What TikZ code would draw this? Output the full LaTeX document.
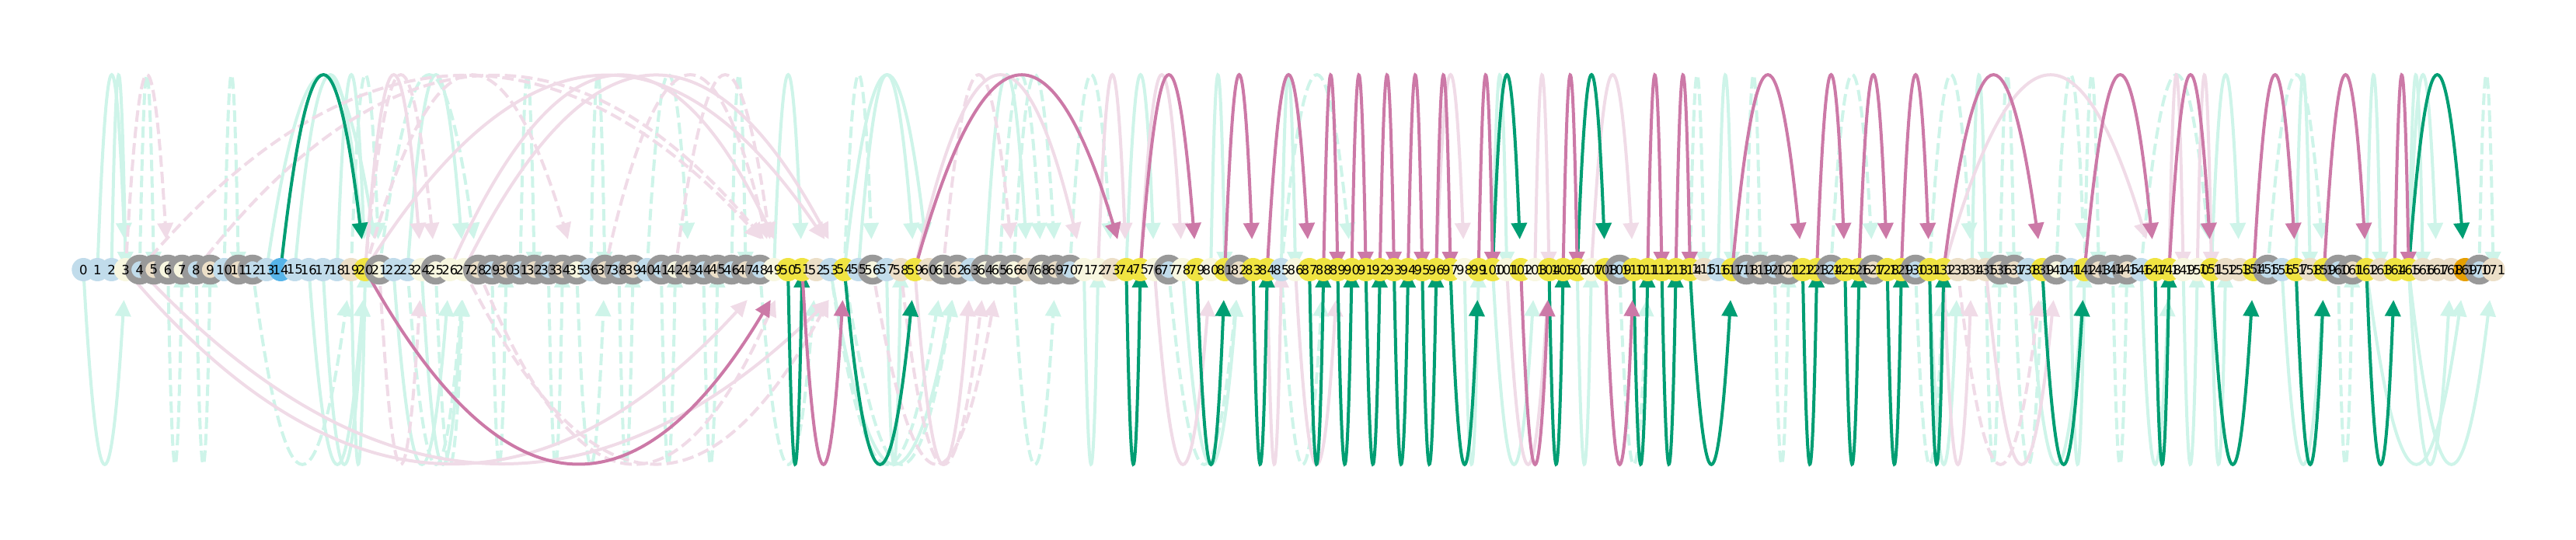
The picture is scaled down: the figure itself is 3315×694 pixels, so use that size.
\documentclass[tikz,border=0pt]{standalone}
\usepackage{fontspec}
\setmainfont{DejaVu Sans}
\usetikzlibrary{arrows.meta,calc}
\definecolor{cb}{HTML}{C1DCEB}
\definecolor{cc}{HTML}{F8F7E0}
\definecolor{ct}{HTML}{ECDFC8}
\definecolor{cy}{HTML}{F0E442}
\definecolor{cs}{HTML}{56B4E9}
\definecolor{co}{HTML}{E69F00}
\definecolor{cg}{HTML}{999999}
\definecolor{lgr}{HTML}{CEF4E9}
\definecolor{lpk}{HTML}{F0DBE7}
\definecolor{dgr}{HTML}{009E73}
\definecolor{dpk}{HTML}{CC79A7}
\pgfdeclarelayer{lightarcs}
\pgfdeclarelayer{darkarcs}
\pgfdeclarelayer{labels}
\pgfsetlayers{lightarcs,darkarcs,main,labels}
\tikzset{
  tok/.style={circle,inner sep=0pt,outer sep=0pt,minimum size=30pt},
  nb/.style={tok,fill=cb}, nc/.style={tok,fill=cc}, nt/.style={tok,fill=ct},
  ny/.style={tok,fill=cy}, ns/.style={tok,fill=cs}, no/.style={tok,fill=co},
  rb/.style={nb,draw=cg,line width=8.5pt}, rc/.style={nc,draw=cg,line width=8.5pt},
  rt/.style={nt,draw=cg,line width=8.5pt},
  lab/.style={inner sep=0pt,font=\fontsize{16.5}{18}\selectfont},
  arcbase/.style={line width=4pt,-{Triangle[length=21pt,width=20pt]}},
  gs/.style={arcbase,color=lgr}, gd/.style={gs,dash pattern=on 14.8pt off 6.4pt},
  ps/.style={arcbase,color=lpk}, pd/.style={ps,dash pattern=on 14.8pt off 6.4pt},
  dg/.style={arcbase,color=dgr}, dp/.style={arcbase,color=dpk}
}
% arc from token #1 to token #2, #3 = +1 above / -1 below, #4 = style
\newcommand{\tokarc}[4]{%
  \pgfmathsetmacro{\dxx}{(#2-#1)*18.136}%
  \pgfmathsetmacro{\dd}{((#2-#1)==1)?2:39}%
  \pgfmathsetmacro{\tu}{(1+sqrt(1-\dd/248))/2}%
  \pgfmathsetmacro{\ax}{\tu*\dxx/3}%
  \pgfmathsetmacro{\ay}{#3*4/3*248*\tu}%
  \pgfmathsetmacro{\ex}{(\tu-1)*\dxx}%
  \pgfmathsetmacro{\ey}{#3*\dd}%
  \pgfmathsetmacro{\bx}{-\tu*\dxx/3}%
  \pgfmathsetmacro{\by}{#3*(2/3*(496*\tu-\dd))}%
  \coordinate (e#1x#2x#3) at ($(n#2.center)+(\ex,\ey)$);
  \draw[#4] (n#1.center) .. controls +(\ax,\ay) and +(\bx,\by) .. (e#1x#2x#3);
}
\begin{document}
\begin{tikzpicture}[x=1pt,y=1pt]
\useasboundingbox (0,0) rectangle (3315,694);
\foreach \i/\k in {0/nb,1/nb,2/nb,3/nc,4/rb,5/rt,6/rc,7/rc,8/rb,9/rt,10/nb,11/rt,12/rb,13/nb,14/ns,15/nb,16/nb,17/nb,18/nb,19/nt,20/ny,21/rc,22/nb,23/nb,24/nc,25/rc,26/nc,27/nc,28/rt,29/rb,30/rt,31/rb,32/rt,33/rb,34/rt,35/rc,36/nb,37/rt,38/rb,39/rt,40/nb,41/rb,42/rc,43/rt,44/rb,45/rt,46/rb,47/rt,48/rb,49/nc,50/ny,51/ny,52/nt,53/nb,54/ny,55/nb,56/rc,57/nb,58/nt,59/ny,60/nt,61/rc,62/rt,63/nb,64/rc,65/rc,66/rc,67/nt,68/rc,69/rt,70/rb,71/nc,72/nc,73/nt,74/ny,75/ny,76/nc,77/rb,78/nc,79/ny,80/nc,81/ny,82/rt,83/ny,84/ny,85/nb,86/nc,87/ny,88/ny,89/ny,90/ny,91/ny,92/ny,93/ny,94/ny,95/ny,96/ny,97/ny,98/nc,99/ny,100/ny,101/nc,102/ny,103/nc,104/ny,105/ny,106/ny,107/nc,108/ny,109/rb,110/ny,111/ny,112/ny,113/ny,114/ny,115/nt,116/nb,117/ny,118/rb,119/rt,120/rb,121/rt,122/ny,123/ny,124/rb,125/ny,126/ny,127/rt,128/ny,129/ny,130/rb,131/ny,132/ny,133/nt,134/nt,135/nt,136/rt,137/rt,138/nb,139/ny,140/rc,141/nb,142/ny,143/rt,144/rb,145/rt,146/nb,147/ny,148/ny,149/nc,150/nc,151/ny,152/nt,153/nt,154/ny,155/rb,156/nb,157/ny,158/nt,159/ny,160/rb,161/rt,162/ny,163/nt,164/ny,165/ny,166/nt,167/nt,168/nt,169/no,170/rb,171/nt}{
  \pgfmathsetmacro{\px}{107.3+18.136*\i}
  \node[\k] (n\i) at (\px,347) {};
  \begin{pgfonlayer}{labels}
    \node[lab] (t\i) at (\px,347) {\i};
  \end{pgfonlayer}
}
\begin{pgfonlayer}{lightarcs}
\foreach \a/\b in {1/3,2/3,13/21,15/20,18/20,23/27,49/51,55/59,54/60,64/67,74/76,80/81,85/86,100/101,116/117,134/135,151/153,157/158,162/163,165/166,165/167}{\tokarc{\a}{\b}{1}{gs}}
\foreach \a/\b in {4/5,10/11,19/21,21/28,31/32,36/37,40/43,46/47,54/56,65/68,66/69,70/73,85/90,114/115,118/119,124/127,131/134,136/137,140/142,142/143,146/151,155/159,170/171}{\tokarc{\a}{\b}{1}{gd}}
\foreach \a/\b in {20/24,20/54,27/54,26/50,59/71,72/74,75/78,96/98,103/104,107/110,132/147,148/149,150/151}{\tokarc{\a}{\b}{1}{ps}}
\foreach \a/\b in {3/6,20/25,20/35,4/50,8/50,37/49,42/49,61/66}{\tokarc{\a}{\b}{1}{pd}}
\foreach \a/\b in {0/3,16/20,17/20,19/20,22/26,24/27,53/62,57/58,71/72,78/82,98/99,100/103,106/107,131/133,138/142,141/142,146/148,149/150,151/152,156/159,162/169,165/168,165/171}{\tokarc{\a}{\b}{-1}{gs}}
\foreach \a/\b in {6/7,8/9,12/19,23/27,25/27,29/30,33/34,35/37,38/39,41/42,44/45,48/52,53/61,54/62,66/69,77/82,85/88,109/111,120/121,130/132,135/136,137/139,144/145,160/161}{\tokarc{\a}{\b}{-1}{gd}}
\foreach \a/\b in {3/49,4/55,59/63,76/80,84/85,86/89,101/104,132/134,135/140}{\tokarc{\a}{\b}{-1}{ps}}
\foreach \a/\b in {21/24,27/54,28/50,56/65,58/64,133/139}{\tokarc{\a}{\b}{-1}{pd}}
\end{pgfonlayer}
\begin{pgfonlayer}{darkarcs}
\foreach \a/\b in {14/20,100/102,106/108,165/169}{\tokarc{\a}{\b}{1}{dg}}
\foreach \a/\b in {59/74,75/79,81/83,84/87,88/89,90/91,92/93,94/95,96/97,99/100,105/106,111/112,113/114,117/122,123/125,126/128,129/131,132/139,142/147,148/151,154/157,159/162,164/165}{\tokarc{\a}{\b}{1}{dp}}
\foreach \a/\b in {50/51,54/59,74/75,79/81,83/84,87/88,89/90,91/92,93/94,95/96,97/99,104/105,110/111,112/113,114/117,122/123,125/126,128/129,131/132,139/142,147/148,151/154,157/159,162/164}{\tokarc{\a}{\b}{-1}{dg}}
\foreach \a/\b in {20/50,51/54,102/104,108/110}{\tokarc{\a}{\b}{-1}{dp}}
\end{pgfonlayer}
\end{tikzpicture}
\end{document}
